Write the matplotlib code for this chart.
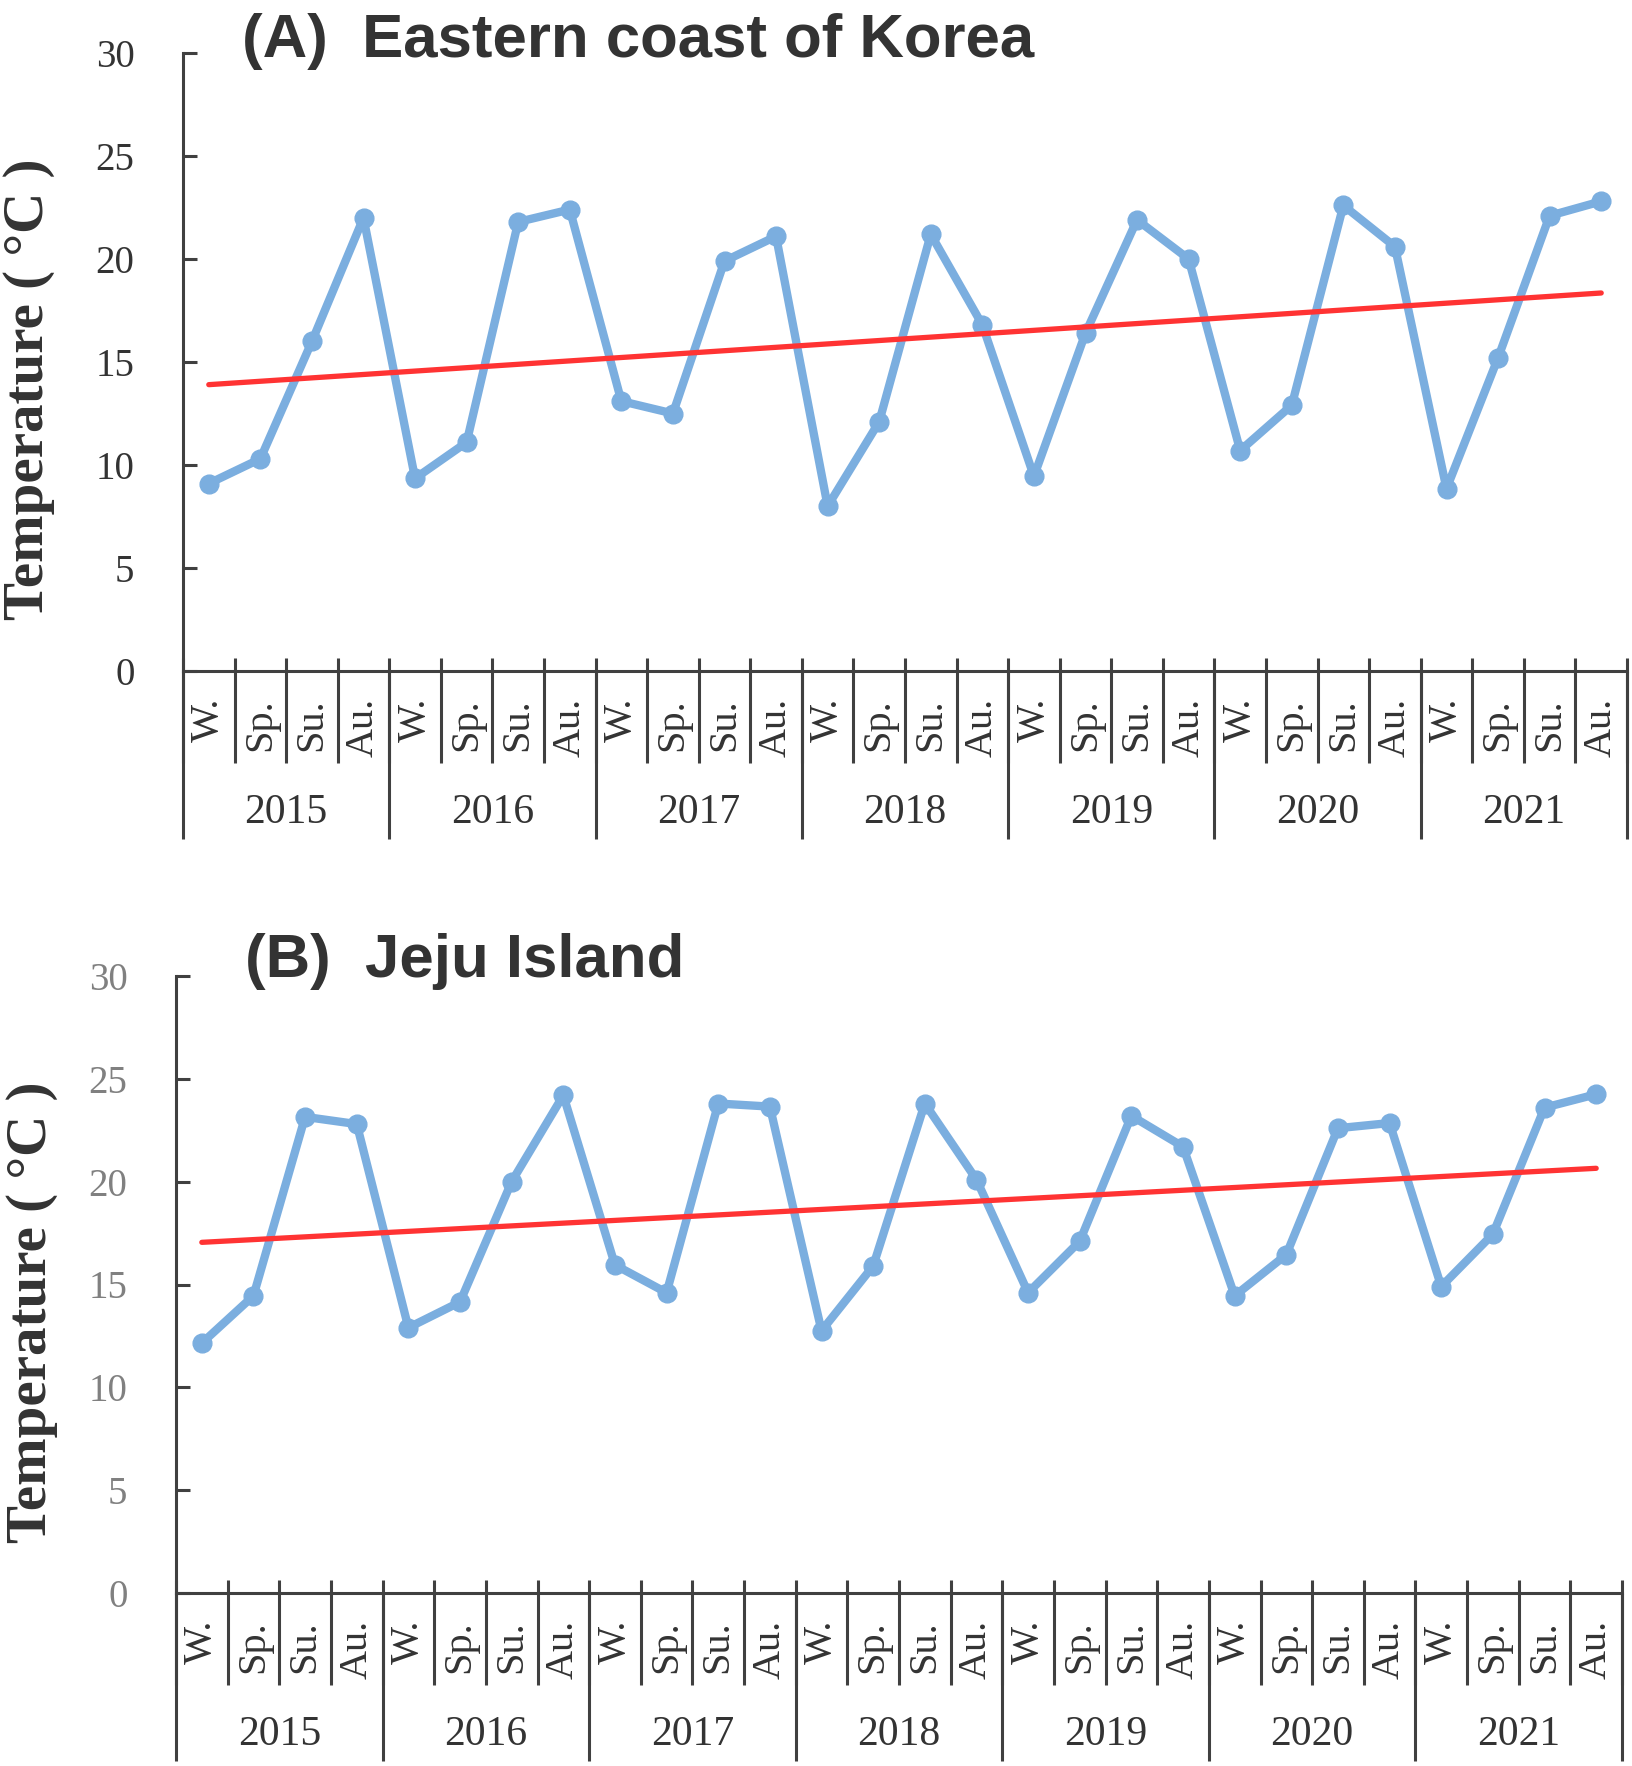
import matplotlib.pyplot as plt
import numpy as np
from matplotlib.transforms import blended_transform_factory

# ----- data -----
years = ['2015', '2016', '2017', '2018', '2019', '2020', '2021']
seasons = ['W.', 'Sp.', 'Su.', 'Au.']

temp_east = [9.1, 10.3, 16.0, 22.0,
             9.35, 11.1, 21.8, 22.4,
             13.1, 12.5, 19.9, 21.1,
             8.0, 12.1, 21.2, 16.8,
             9.45, 16.4, 21.9, 20.0,
             10.7, 12.9, 22.6, 20.6,
             8.85, 15.2, 22.1, 22.8]
trend_east = [13.9, 18.35]   # start / end of linear trendline

temp_jeju = [12.15, 14.45, 23.15, 22.8,
             12.9, 14.15, 20.0, 24.2,
             15.95, 14.6, 23.8, 23.65,
             12.75, 15.9, 23.8, 20.1,
             14.6, 17.1, 23.2, 21.7,
             14.45, 16.45, 22.6, 22.85,
             14.9, 17.45, 23.6, 24.25]
trend_jeju = [17.05, 20.65]

W, H = 1632, 1766
BLUE = '#7baedf'
RED = '#ff3333'
AXC = '#404040'
TXT = '#333333'


def draw_panel(fig, box, temps, trend, title, title_xy, ytick_color, ylab_xy):
    left, right, top, bottom = box
    ax = fig.add_axes([left / W, 1 - bottom / H, (right - left) / W, (bottom - top) / H])
    n = len(temps)
    x = np.arange(n)
    ax.plot(x, temps, color=BLUE, lw=6, marker='o', ms=13.5, mew=1,
            solid_joinstyle='round', zorder=3)
    ax.plot([x[0], x[-1]], trend, color=RED, lw=3.8, solid_capstyle='round', zorder=4)

    ax.set_xlim(-0.5, n - 0.5)
    ax.set_ylim(0, 30)
    ax.set_yticks(range(0, 31, 5))
    for s in ['top', 'right']:
        ax.spines[s].set_visible(False)
    for s in ['left', 'bottom']:
        ax.spines[s].set_color(AXC)
        ax.spines[s].set_linewidth(2.2)
    ax.tick_params(axis='y', direction='in', length=10, width=2.2, color=AXC, pad=35,
                   labelsize=28, labelcolor=ytick_color)
    for lab in ax.get_yticklabels():
        lab.set_fontfamily('Liberation Serif')
    ax.set_xticks([])

    # multi-level category axis (Excel style)
    hpx = bottom - top
    tr = blended_transform_factory(ax.transData, ax.transAxes)
    b = np.arange(n + 1) - 0.5
    ax.vlines(b, 0, 13 / hpx, color=AXC, lw=2.2, transform=tr, clip_on=False)
    ax.vlines(b, -92 / hpx, 0, color=AXC, lw=2.2, transform=tr, clip_on=False)
    ax.vlines(b[::4], -168 / hpx, 0, color=AXC, lw=2.2, transform=tr, clip_on=False)
    for i in range(n):
        ax.text(i, -27 / hpx, seasons[i % 4], rotation=90, ha='center', va='top',
                fontsize=29, family='Liberation Serif', color=TXT, transform=tr)
    for k, yr in enumerate(years):
        ax.text(4 * k + 1.5, -142 / hpx, yr, ha='center', va='center',
                fontsize=30, family='Liberation Serif', color=TXT, transform=tr)

    fig.text(title_xy[0] / W, 1 - title_xy[1] / H, title, ha='left', va='baseline',
             fontsize=44.5, fontweight='bold', family='Liberation Sans', color=TXT)
    fig.text(ylab_xy[0] / W, 1 - ylab_xy[1] / H, 'Temperature ( \u00b0C )', rotation=90,
             ha='center', va='center', fontsize=41, fontweight='bold',
             family='Liberation Serif', color=TXT)
    return ax


fig = plt.figure(figsize=(W / 100, H / 100), dpi=100)
draw_panel(fig, (183, 1627, 53, 671), temp_east, trend_east, '(A)  Eastern coast of Korea',
           (242, 57), TXT, (29, 389))
draw_panel(fig, (176, 1622, 976, 1593), temp_jeju, trend_jeju, '(B)  Jeju Island',
           (245, 977), '#808080', (32, 1312))
fig.savefig('out.png', dpi=100)
